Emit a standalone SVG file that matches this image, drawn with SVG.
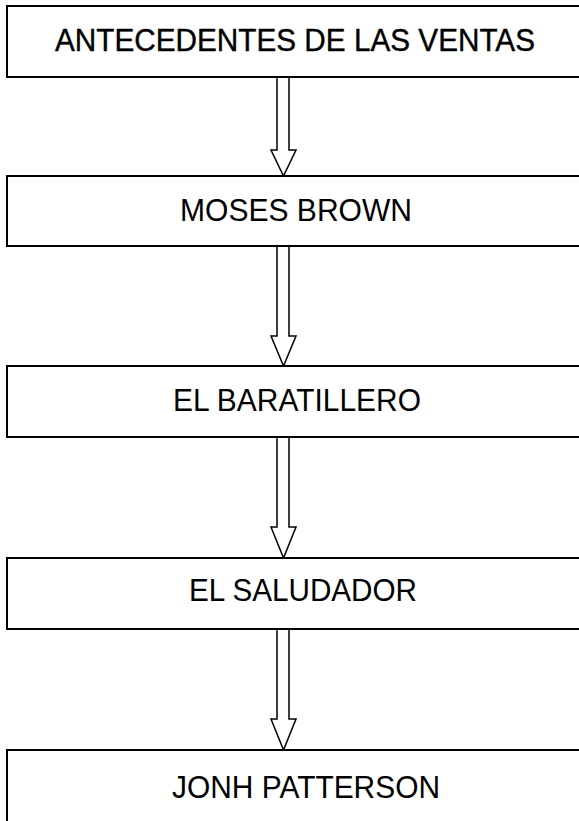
<svg xmlns="http://www.w3.org/2000/svg" width="579" height="821" viewBox="0 0 579 821">
<style>
.box{fill:#fff;stroke:#000;stroke-width:2}
.lbl{font-family:"Liberation Sans",Arial,sans-serif;font-size:32px;fill:#000;text-anchor:middle}
.arr{fill:#fff;stroke:#000;stroke-width:1.5;stroke-linejoin:miter}
</style>
<rect x="0" y="0" width="579" height="821" fill="#fff"/>
<g id="connectors">
<polygon class="arr" points="277,77 277,150 271,150 283.5,176 296,150 289,150 289,77"/>
<polygon class="arr" points="277,246 277,336 271,336 283.5,366 296,336 289,336 289,246"/>
<polygon class="arr" points="277,437 277,527 271,527 283.5,558 296,527 289,527 289,437"/>
<polygon class="arr" points="277,629 277,719 271,719 283.5,750 296,719 289,719 289,629"/>
</g>
<g id="node1"><rect class="box" x="7" y="6" width="590" height="71"/><text class="lbl" x="295" y="51" textLength="480" lengthAdjust="spacingAndGlyphs" stroke="#000" stroke-width="0.4">ANTECEDENTES DE LAS VENTAS</text></g>
<g id="node2"><rect class="box" x="7" y="176" width="590" height="70"/><text class="lbl" x="296" y="221" textLength="232" lengthAdjust="spacingAndGlyphs">MOSES BROWN</text></g>
<g id="node3"><rect class="box" x="7" y="366" width="590" height="71"/><text class="lbl" x="297" y="411" textLength="248" lengthAdjust="spacingAndGlyphs">EL BARATILLERO</text></g>
<g id="node4"><rect class="box" x="7" y="558" width="590" height="71"/><text class="lbl" x="303" y="601" textLength="228" lengthAdjust="spacingAndGlyphs">EL SALUDADOR</text></g>
<g id="node5"><rect class="box" x="7" y="750" width="590" height="100"/><text class="lbl" x="306" y="798" textLength="268" lengthAdjust="spacingAndGlyphs">JONH PATTERSON</text></g>
</svg>
